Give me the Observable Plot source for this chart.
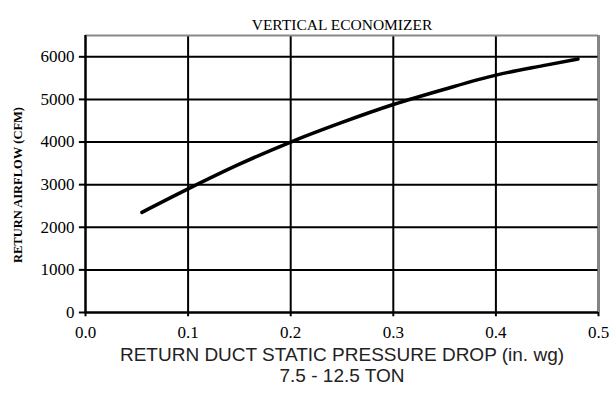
<!DOCTYPE html>
<html>
<head>
<meta charset="utf-8">
<script src="https://cdn.jsdelivr.net/npm/d3@7"></script>
<script src="https://cdn.jsdelivr.net/npm/@observablehq/plot@0.6"></script>
<style>
  html, body { margin: 0; padding: 0; background: #fff; }
</style>
</head>
<body>
<div id="chart"></div>
<script>
const title = "VERTICAL ECONOMIZER";
const yLabel = "RETURN AIRFLOW (CFM)";
const xLabel1 = "RETURN DUCT STATIC PRESSURE DROP (in. wg)";
const xLabel2 = "7.5 - 12.5 TON";

const pressure = [0.055, 0.1, 0.15, 0.2, 0.25, 0.3, 0.35, 0.4, 0.45, 0.48];
const airflow  = [2350, 2900, 3480, 4000, 4460, 4880, 5240, 5570, 5810, 5950];

const xTicks = [0, 0.1, 0.2, 0.3, 0.4, 0.5];
const yTicks = [0, 1000, 2000, 3000, 4000, 5000, 6000];

const data = pressure.map((p, i) => ({p, q: airflow[i]}));
const serif = "Liberation Serif";
const sans = "Liberation Sans";

const chart = Plot.plot({
  width: 609,
  height: 405,
  marginLeft: 85,
  marginRight: 11,
  marginTop: 35,
  marginBottom: 93,
  style: {fontFamily: serif, fontSize: "15px", color: "#000", background: "#fff"},
  x: {domain: [0, 0.5], axis: null},
  y: {domain: [0, 6500], axis: null},
  marks: [
    Plot.gridX(xTicks, {stroke: "#000", strokeOpacity: 1, strokeWidth: 2}),
    Plot.gridY(yTicks, {stroke: "#000", strokeOpacity: 1, strokeWidth: 2}),
    Plot.ruleX([0.5], {stroke: "#888", strokeWidth: 2}),
    Plot.ruleY([6500], {stroke: "#888", strokeWidth: 2}),
    Plot.ruleX([0], {stroke: "#000", strokeWidth: 2}),
    Plot.ruleY([0], {stroke: "#000", strokeWidth: 2}),
    // tick marks
    Plot.ruleY(yTicks, {x1: -0.006, x2: 0, stroke: "#000", strokeWidth: 2}),
    Plot.ruleX(xTicks, {y1: -100, y2: 0, stroke: "#000", strokeWidth: 2}),
    // tick labels
    Plot.text(yTicks, {x: 0, y: d => d, dx: -11, textAnchor: "end", text: d => d3.format("d")(d), fontSize: 17, fontFamily: serif, fill: "#000"}),
    Plot.text(xTicks, {x: d => d, y: 0, dy: 20, text: d => d3.format(".1f")(d), fontSize: 17, fontFamily: serif, fill: "#000"}),
    Plot.line(data, {x: "p", y: "q", stroke: "#000", strokeWidth: 3.5, curve: "monotone-x"}),
    Plot.text([title], {frameAnchor: "top", dy: -17, text: d => d, fontSize: 15.5, fontFamily: serif, fill: "#000"}),
    Plot.text([yLabel], {frameAnchor: "left", dx: -68, dy: 11, rotate: -90, textAnchor: "middle", text: d => d, fontSize: 12.5, fontWeight: "bold", fontFamily: serif, fill: "#000"}),
    Plot.text([xLabel1], {frameAnchor: "bottom", dy: 48, text: d => d, fontSize: 19, fontFamily: sans, fill: "#222"}),
    Plot.text([xLabel2], {frameAnchor: "bottom", dy: 69, text: d => d, fontSize: 19, fontFamily: sans, fill: "#222"})
  ]
});
document.getElementById("chart").appendChild(chart);
</script>
</body>
</html>
